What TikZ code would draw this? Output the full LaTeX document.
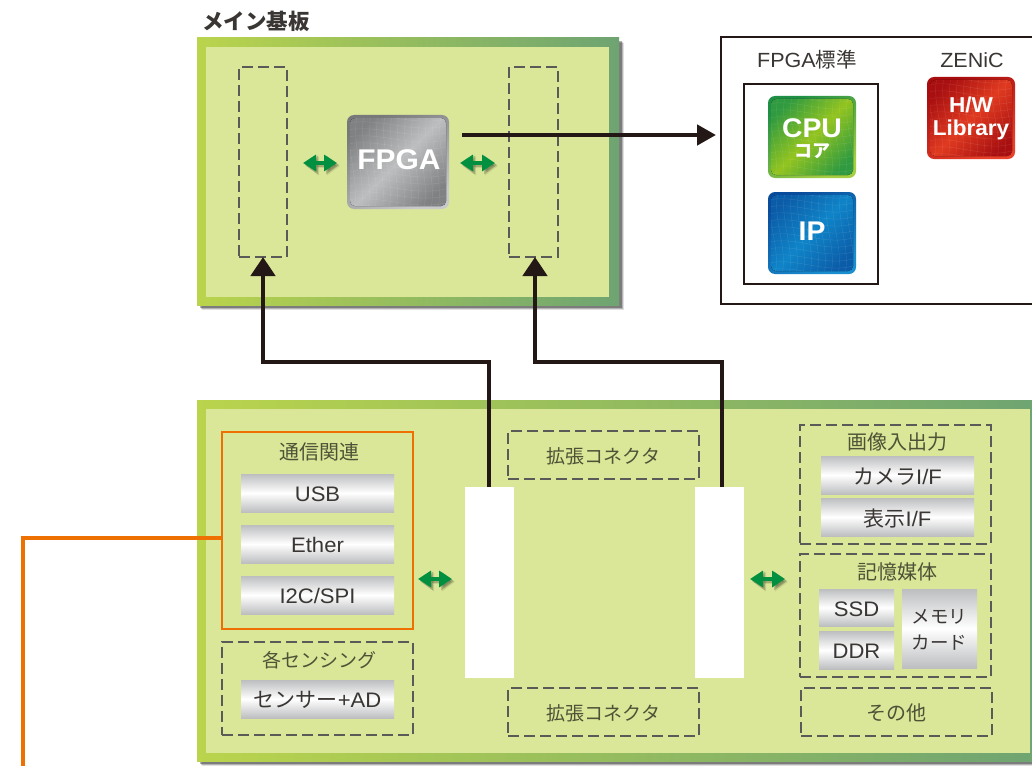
\documentclass[tikz,border=0pt]{standalone}
\usepackage{fontspec}
\setmainfont[FakeStretch=1.05]{Liberation Sans}
\newfontfamily\cjk{Noto Sans CJK JP}
\usetikzlibrary{arrows.meta}
\newcommand\J[1]{{\cjk #1}}
\newcommand\D[1]{\raisebox{-1.3pt}[\height][\depth]{#1}}
\definecolor{ink}{HTML}{231815}
\definecolor{txt}{HTML}{3A3634}
\definecolor{hdr}{HTML}{4E5236}
\definecolor{dashc}{HTML}{5A5A58}
\definecolor{pcb}{HTML}{DAE698}
\definecolor{pcbl}{HTML}{BAD44C}
\definecolor{pcbr}{HTML}{6EA472}
\definecolor{orng}{HTML}{EE7000}
\definecolor{grn}{HTML}{00903F}
\definecolor{barc}{HTML}{BDBEC0}
\tikzset{
  x=1pt,y=-1pt,
  every node/.style={inner sep=0pt,outer sep=0pt},
  dashbox/.style={draw=dashc,line width=2.6pt,dash pattern=on 11pt off 5pt,text=hdr,font=\fontsize{20}{24}\selectfont},
  keepout/.style={fill=white},
  greybar/.style={top color=barc,bottom color=barc,middle color=white,text=txt,font=\fontsize{21}{26}\selectfont,align=center},
  orbox/.style={draw=orng,line width=2.6pt},
  plainbox/.style={draw=ink,line width=2.2pt,fill=white},
  head/.style={text=hdr,font=\fontsize{20}{24}\selectfont},
  bus/.style={draw=ink,line width=4.5pt,-{Triangle[length=19pt,width=24pt]}},
  busr/.style={draw=ink,line width=4.5pt,-{Triangle[length=19pt,width=20pt]}},
  orline/.style={draw=orng,line width=4pt},
  gar/.style={draw=grn,line width=3.5pt,{Triangle[length=13pt,width=16pt]}-{Triangle[length=13pt,width=16pt]}},
  garsh/.style={draw=black!75!pcb,line width=3.5pt,{Triangle[length=13pt,width=18pt]}-{Triangle[length=13pt,width=18pt]}},
  chiptxt/.style={text=white,align=center},
}
\newcommand\bx[7][]{%
  \pgfmathsetmacro\cx{(#3+#5)/2}\pgfmathsetmacro\cy{(#4+#6)/2}%
  \pgfmathsetmacro\bw{(#5)-(#3)}\pgfmathsetmacro\bh{(#6)-(#4)}%
  \node[#1,minimum width=\bw,minimum height=\bh] (#2) at (\cx,\cy) {#7};}
% board: shadow, gradient frame, inner field
\newcommand\board[5]{%
  \foreach \o/\op in {5/.12,4/.2,3/.3}{\fill[black,opacity=\op] (#2+\o,#3+\o) rectangle (#4+\o,#5+\o);}
  \fill[left color=pcbl,right color=pcbr] (#2,#3) rectangle (#4,#5);
  \bx[fill=pcb]{#1}{#2+9}{#3+9}{#4-10}{#5-8}{}}
% chip: name x0 y0 x1 y1 dark light rim-dark rim-light
\newcommand\chip[9]{%
  \definecolor{cA}{HTML}{#6}\definecolor{cB}{HTML}{#7}\definecolor{cC}{HTML}{#8}\definecolor{cD}{HTML}{#9}%
  \pgfmathsetmacro\cxx{(#2+#4)/2}\pgfmathsetmacro\cyy{(#3+#5)/2}%
  \pgfmathsetmacro\chipw{#4-#2}\pgfmathsetmacro\chiph{#5-#3}%
  \node[rounded corners=7pt,minimum width=\chipw,minimum height=\chiph,
        top color=cC,bottom color=cD,shading angle=30] (#1) at (\cxx,\cyy) {};
  \begin{scope}
    \clip[rounded corners=5pt] (#2+3,#3+3) rectangle (#4-3,#5-3);
    \fill[top color=cA,bottom color=cA,middle color=cB,shading angle=45] (#2,#3) rectangle (#4,#5);
    \foreach \k in {0,...,14}{
      \draw[white,opacity=.10,line width=.5pt] (#2,#3+\k*7-6) .. controls (#2+\chipw/3,#3+\k*7-12) and (#2+2*\chipw/3,#3+\k*7+6) .. (#4,#3+\k*7-4);
      \draw[white,opacity=.10,line width=.5pt] (#2+\k*7-4,#3) .. controls (#2+\k*7-10,#3+\chiph/3) and (#2+\k*7+6,#3+2*\chiph/3) .. (#2+\k*7,#5);}
  \end{scope}}
\begin{document}
\begin{tikzpicture}
\useasboundingbox (0,0) rectangle (1032,765);
\fill[white] (0,0) rectangle (1032,765);
\clip (0,0) rectangle (1032,765);

% main board
\node[anchor=west,text=txt,font=\fontsize{21.5}{26}\selectfont\bfseries] (title) at (202,21) {\J{\bfseries メイン基板}};
\board{mainpcb}{197}{38}{619}{305}
\bx[dashbox]{bayl}{239}{67}{287}{257}{}
\bx[dashbox]{bayr}{509}{67}{558}{257}{}
\chip{fpga}{347}{115}{449}{209}{808183}{BDBEC0}{77787A}{C8C9CB}
\node[chiptxt,font=\fontsize{28.5}{32}\selectfont\bfseries] (fpgat) at (399,160) {FPGA};

% library panel
\bx[plainbox]{libbox}{721}{37}{1045}{304}{}
\bx[plainbox]{stdbox}{744}{84}{878}{284}{}
\node[text=txt,font=\fontsize{20.5}{24}\selectfont] (stdt) at (807,60) {FPGA\J{標準}};
\node[text=txt,font=\fontsize{20.5}{24}\selectfont] (zent) at (972,60) {ZENiC};
\chip{cpu}{768}{96}{856}{178}{2F9A3F}{93C41F}{1F8F45}{A5CF42}
\node[chiptxt,font=\fontsize{27}{30}\selectfont\bfseries] (cput) at (812,128) {CPU};
\node[chiptxt,font=\fontsize{18}{20}\selectfont\bfseries] (coat) at (812,151) {\J{\bfseries コア}};
\chip{ip}{768}{192}{856}{274}{0B5CA8}{0F84C8}{0A4C9C}{1A8FD0}
\node[chiptxt,font=\fontsize{27}{30}\selectfont\bfseries] (ipt) at (812,231) {IP};
\chip{hw}{927}{77}{1015}{159}{A80F10}{E03A20}{A80C0C}{E8402A}
\node[chiptxt,font=\fontsize{21.5}{23}\selectfont\bfseries] (hwt) at (971,118.5) {H/W\\Library};

% lower board
\board{subpcb}{197}{400}{1040}{761}
\bx[orbox]{comm}{222}{432}{413}{629}{}
\node[head] (commt) at (319,452) {\J{通信関連}};
\bx[greybar]{usb}{241}{474}{394}{512}{\D{USB}}
\bx[greybar]{ether}{241}{525}{394}{563}{\D{Ether}}
\bx[greybar]{i2c}{241}{576}{394}{614}{\D{I2C/SPI}}
\bx[dashbox]{sens}{222}{642}{413}{735}{}
\node[head,font=\fontsize{19}{24}\selectfont] (senst) at (319,660) {\J{各センシング}};
\bx[greybar]{sensor}{241}{680}{394}{718}{\D{\J{センサー}+AD}}
\bx[dashbox,font=\fontsize{19}{24}\selectfont]{extu}{508}{431}{699}{479}{\D{\J{拡張コネクタ}}}
\bx[dashbox,font=\fontsize{19}{24}\selectfont]{extd}{508}{688}{699}{736}{\D{\J{拡張コネクタ}}}
\bx[dashbox]{vid}{800}{425}{991}{544}{}
\node[head] (vidt) at (897,442) {\J{画像入出力}};
\bx[greybar]{cam}{821}{456}{974}{494}{\D{\J{カメラ}I/F}}
\bx[greybar]{disp}{821}{498}{974}{536}{\D{\J{表示}I/F}}
\bx[dashbox]{mem}{800}{554}{991}{677}{}
\node[head] (memt) at (897,572) {\J{記憶媒体}};
\bx[greybar]{ssd}{819}{589}{894}{626}{\D{SSD}}
\bx[greybar]{ddr}{819}{631}{894}{669}{\D{DDR}}
\bx[greybar,font=\fontsize{18.5}{26}\selectfont]{mcard}{902}{589}{977}{668}{\D{\J{メモリ}}\\\D{\J{カード}}}
\bx[dashbox]{misc}{801}{688}{992}{736}{\D{\J{その他}}}

% connectors
\bx[keepout]{slotl}{465}{487}{514}{678}{}
\bx[keepout]{slotr}{695}{487}{744}{678}{}
\coordinate (busl) at (263,362);
\coordinate (busr) at (535,362);
\draw[bus] ([xshift=-.5pt]slotl.north) |- (busl) -- (bayl.south);
\draw[bus] ([xshift=2.5pt]slotr.north) |- (busr) -- ([xshift=1.5pt]bayr.south);
\coordinate (fout) at (462,135);
\draw[busr] (fout) -- ([xshift=-5pt]fout -| libbox.west);
\coordinate (orn) at (23,770);
\coordinate (ory) at (0,538);
\draw[orline] (comm.west |- ory) -| (orn);

% green double arrows
\foreach \a/\b/\c in {303/337/163,460/495/163,418/452/579,750/785/579}{
  \coordinate (g1) at (\a,\c); \coordinate (g2) at (\b,\c);
  \draw[garsh,opacity=.12] ([xshift=3pt,yshift=-3pt]g1) -- ([xshift=3pt,yshift=-3pt]g2);
  \draw[garsh,opacity=.25] ([xshift=2pt,yshift=-2pt]g1) -- ([xshift=2pt,yshift=-2pt]g2);
  \draw[gar] (g1) -- (g2);}
\end{tikzpicture}
\end{document}
